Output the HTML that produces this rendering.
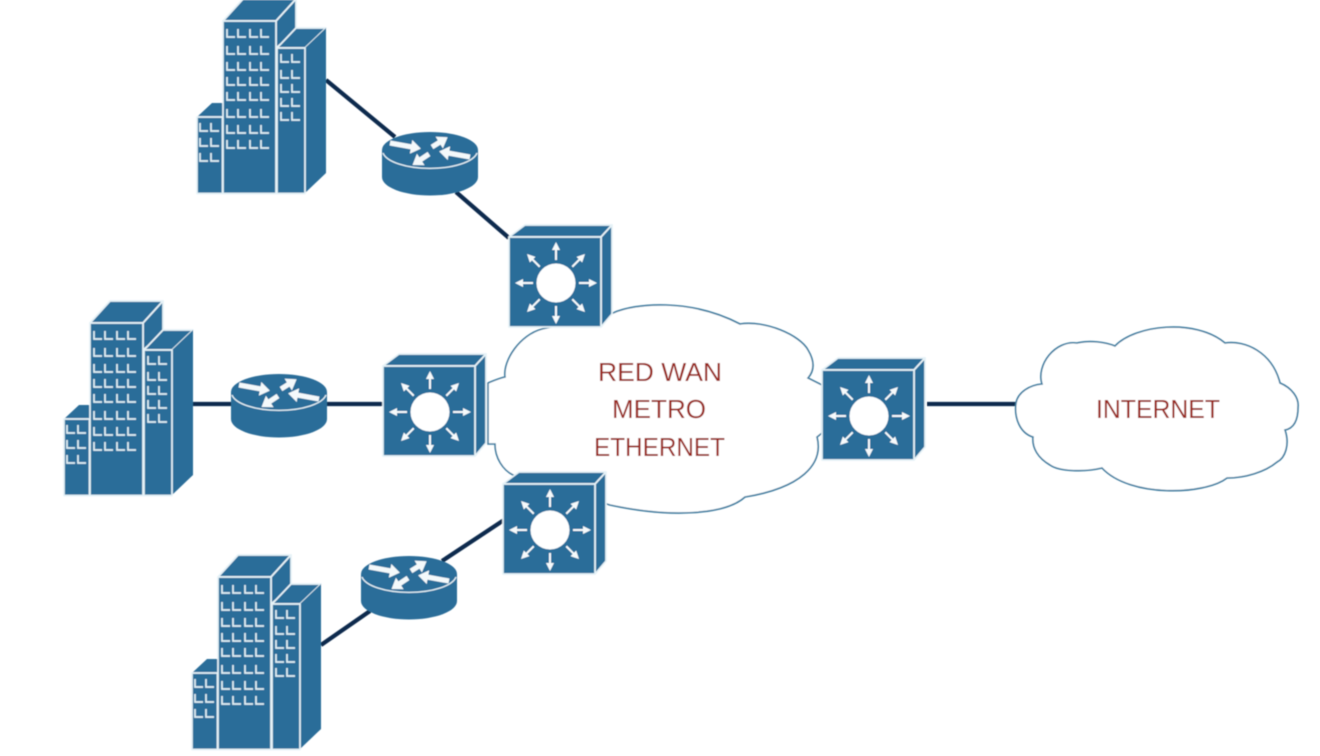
<!DOCTYPE html>
<html><head><meta charset="utf-8"><style>html,body{margin:0;padding:0;background:#fff}svg{display:block}</style></head>
<body>
<svg width="1320" height="756" viewBox="0 0 1320 756" xmlns="http://www.w3.org/2000/svg">
<defs>
<filter id="s" x="-5%" y="-5%" width="110%" height="110%"><feGaussianBlur stdDeviation="0.45"/></filter>
<marker id="m" markerUnits="userSpaceOnUse" markerWidth="14" markerHeight="16" refX="1" refY="7" orient="auto"><path d="M0 0L10 7L0 14z" fill="#f4f9fb"/></marker>
<g id="bld">
<g fill="#2c6d99" stroke="#e6f2f7" stroke-width="1.700" stroke-linejoin="round">
<path d="M223 21L243 0H296V50L276 50V21z" stroke="none"/>
<path d="M223 21L243 -1H296L276 21z"/>
<path d="M276 21L296 -1V32L277 47H276z"/>
<path d="M197 117L212 103H223V117z" stroke="none"/>
<rect x="197" y="117" width="25.500" height="76.500"/>
<rect x="223" y="21" width="53" height="172.500"/>
<path d="M277 48L296 28H326L305 48z"/>
<path d="M305 48L326 28V173L305 193z" stroke="none"/>
<rect x="277" y="48" width="28" height="145.500"/>
</g>
<g fill="none" stroke="#e2f0f5" stroke-width="1.700">
<path d="M227 29v8h8M238 29v8h8M250 29v8h8M261 29v8h8M227 46v8h8M238 46v8h8M250 46v8h8M261 46v8h8M227 62v8h8M238 62v8h8M250 62v8h8M261 62v8h8M227 77v8h8M238 77v8h8M250 77v8h8M261 77v8h8M227 92v8h8M238 92v8h8M250 92v8h8M261 92v8h8M227 109v8h8M238 109v8h8M250 109v8h8M261 109v8h8M227 125v8h8M238 125v8h8M250 125v8h8M261 125v8h8M227 140v8h8M238 140v8h8M250 140v8h8M261 140v8h8"/>
<path d="M281 54v8h8M292 54v8h8M281 70v8h8M292 70v8h8M281 84v8h8M292 84v8h8M281 98v8h8M292 98v8h8M281 112v8h8M292 112v8h8"/>
<path d="M200 123v8h8M211 123v8h8M200 138v8h8M211 138v8h8M200 153v8h8M211 153v8h8"/>
</g>
</g>
<g id="rtr">
<path d="M382 150V177A48 18.500 0 0 0 478 177V150z" fill="#2c6d99"/>
<ellipse cx="430" cy="150" rx="48" ry="18" fill="#2c6d99"/>
<path d="M383 153A47.500 18 0 0 0 477 153" fill="none" stroke="#e6f2f7" stroke-width="1.300"/>
<g stroke="#f4f9fb" stroke-width="5" fill="none">
<line x1="390" y1="143" x2="412" y2="147" marker-end="url(#m)"/>
<line x1="432" y1="147" x2="440" y2="142" marker-end="url(#m)"/>
<line x1="470" y1="157" x2="448" y2="153" marker-end="url(#m)"/>
<line x1="429" y1="154" x2="420" y2="160" marker-end="url(#m)"/>
</g>
</g>
<g id="arr"><rect x="-1" y="-34" width="2" height="11" fill="#f6fafc"/><path d="M-4 -33L4 -33L0 -41z" fill="#f6fafc"/></g>
<g id="sw">
<g fill="#2c6d99" stroke="#e6f2f7" stroke-width="1.700" stroke-linejoin="round">
<path d="M509 237L525 225H612L601 237z"/>
<path d="M601 237L612 225V314L601 327z" />
<rect x="509" y="237" width="92" height="90"/>
</g>
<circle cx="556" cy="283" r="19.500" fill="#fff"/>
<g transform="translate(556 283)">
<use href="#arr"/><use href="#arr" transform="rotate(45)"/><use href="#arr" transform="rotate(90)"/><use href="#arr" transform="rotate(135)"/><use href="#arr" transform="rotate(180)"/><use href="#arr" transform="rotate(225)"/><use href="#arr" transform="rotate(270)"/><use href="#arr" transform="rotate(315)"/>
</g>
</g>
</defs>
<rect width="1320" height="756" fill="#fff"/>
<g filter="url(#s)">
<g stroke="#0f2c4d" stroke-width="4.200" fill="none">
<line x1="326" y1="80" x2="395" y2="137"/>
<line x1="456" y1="192" x2="509" y2="238"/>
<line x1="193" y1="404" x2="232" y2="404"/>
<line x1="326" y1="404" x2="384" y2="404"/>
<line x1="321" y1="645" x2="370" y2="611"/>
<line x1="442" y1="561" x2="504" y2="520"/>
<line x1="927" y1="404" x2="1017" y2="404"/>
</g>
<path d="M613 313C635 303 690 298 740 324C765 320 800 335 808 350C814 360 815 370 808 378L822 385L822 433L817 437C824 465 800 488 745 497C725 515 670 518 610 505L513 475C503 470 495 458 495 444L488 444L488 383C495 380 500 378 505 377C503 360 520 335 542 329L613 313z" fill="#fff" stroke="#3c7b9f" stroke-width="1.600"/>
<path d="M1016 403C1018 392 1030 385 1042 384C1036 365 1055 340 1077 343C1090 340 1105 342 1115 346C1135 325 1195 318 1225 343C1245 340 1272 352 1280 383C1292 388 1299 398 1298 407C1298 418 1295 428 1285 430C1290 445 1285 458 1277 462C1265 472 1245 478 1227 478C1205 495 1130 498 1102 468C1085 472 1060 472 1050 465C1038 458 1032 448 1033 437C1020 433 1014 418 1016 403z" fill="#fff" stroke="#3c7b9f" stroke-width="1.600"/>
<use href="#bld"/>
<use href="#bld" transform="translate(-133 302)"/>
<use href="#bld" transform="translate(-5 556)"/>
<use href="#rtr"/>
<use href="#rtr" transform="translate(-151 242)"/>
<use href="#rtr" transform="translate(-21 424)"/>
<use href="#sw"/>
<use href="#sw" transform="translate(-126 129)"/>
<use href="#sw" transform="translate(-6 247)"/>
<use href="#sw" transform="translate(313 133)"/>
<g font-family="'Liberation Sans',sans-serif" font-size="26" fill="#9a2c24">
<text x="598" y="381" textLength="124" lengthAdjust="spacingAndGlyphs">RED WAN</text>
<text x="612" y="418" textLength="94" lengthAdjust="spacingAndGlyphs">METRO</text>
<text x="594" y="456" textLength="131" lengthAdjust="spacingAndGlyphs">ETHERNET</text>
<text x="1096" y="418" textLength="124" lengthAdjust="spacingAndGlyphs">INTERNET</text>
</g>
</g>
</svg>
</body></html>
